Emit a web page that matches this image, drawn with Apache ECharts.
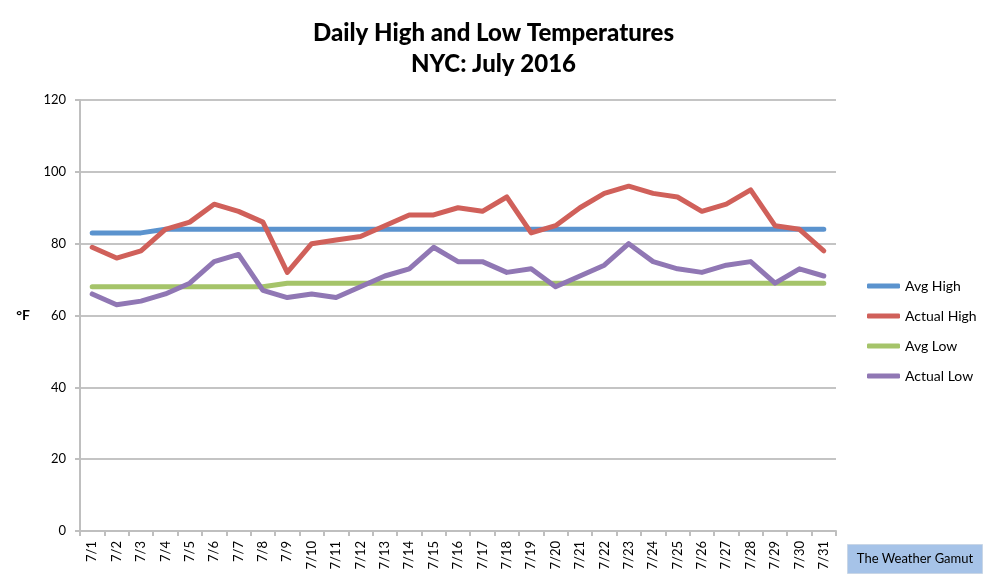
<!DOCTYPE html>
<html>
<head>
<meta charset="utf-8">
<style>
html, body { margin: 0; padding: 0; background: #fff; }
#chart { width: 987px; height: 578px; }
</style>
</head>
<body>
<div id="chart"></div>
<script src="https://cdn.jsdelivr.net/npm/echarts@6/dist/echarts.min.js"></script>
<script>
var days = ['7/1','7/2','7/3','7/4','7/5','7/6','7/7','7/8','7/9','7/10','7/11','7/12','7/13','7/14','7/15','7/16',
	'7/17','7/18','7/19','7/20','7/21','7/22','7/23','7/24','7/25','7/26','7/27','7/28','7/29','7/30','7/31'];
var avgHigh = [83,83,83,84,84,84,84,84,84,84,84,84,84,84,84,84,84,84,84,84,84,84,84,84,84,84,84,84,84,84,84];
var actualHigh = [79,76,78,84,86,91,89,86,72,80,81,82,85,88,88,90,89,93,83,85,90,94,96,94,93,89,91,95,85,84,78];
var avgLow = [68,68,68,68,68,68,68,68,69,69,69,69,69,69,69,69,69,69,69,69,69,69,69,69,69,69,69,69,69,69,69];
var actualLow = [66,63,64,66,69,75,77,67,65,66,65,68,71,73,79,75,75,72,73,68,71,74,80,75,73,72,74,75,69,73,71];

var colors = ['#5b93ce', '#d0605a', '#a5c46a', '#9077b4'];
var font = 'Lato, "Open Sans", sans-serif';

var chart = echarts.init(document.getElementById('chart'));

function line(name, data) {
	return {
		name: name,
		type: 'line',
		data: data,
		symbol: 'none',
		lineStyle: { width: 5, cap: 'round', join: 'round' },
		animation: false
	};
}

var option = {
	color: colors,
	textStyle: { fontFamily: font },
	title: {
		text: 'Daily High and Low Temperatures\nNYC: July 2016',
		left: 'center',
		top: 13,
		textStyle: { fontSize: 24, fontWeight: 900, color: '#000', lineHeight: 31, fontFamily: font }
	},
	legend: {
		orient: 'vertical',
		left: 862,
		top: 274,
		itemGap: 16,
		itemWidth: 33,
		itemHeight: 5,
		icon: 'roundRect',
		textStyle: { fontSize: 14, color: '#000' },
		data: ['Avg High', 'Actual High', 'Avg Low', 'Actual Low']
	},
	grid: { left: 80, right: 151, top: 100, bottom: 47 },
	xAxis: {
		type: 'category',
		data: days,
		axisLine: { lineStyle: { color: '#bfbfbf', width: 2 } },
		axisTick: { show: true, length: 5, lineStyle: { color: '#bfbfbf', width: 2 } },
		axisLabel: { rotate: 90, color: '#000', fontSize: 13, margin: 10, interval: 0 }
	},
	yAxis: {
		type: 'value',
		min: 0,
		max: 120,
		interval: 20,
		name: '°F',
		nameLocation: 'middle',
		nameRotate: 0,
		nameGap: 50,
		nameTextStyle: { fontWeight: 'bold', fontSize: 14, color: '#000' },
		axisLine: { show: true, lineStyle: { color: '#bfbfbf', width: 2 } },
		axisTick: { show: true, length: 5, lineStyle: { color: '#bfbfbf', width: 2 } },
		axisLabel: { color: '#000', fontSize: 13, margin: 14 },
		splitLine: { lineStyle: { color: '#c4c4c4', width: 2 } }
	},
	graphic: [{
		type: 'group',
		left: 847,
		top: 544,
		children: [{
			type: 'rect',
			shape: { x: 0, y: 0, width: 135, height: 29 },
			style: { fill: '#a6c3e8', stroke: '#c9d6e6', lineWidth: 1 }
		}, {
			type: 'text',
			x: 67.5,
			y: 14.5,
			style: { text: 'The Weather Gamut', fill: '#000', font: '13px ' + font, align: 'center', verticalAlign: 'middle' }
		}]
	}],
	series: [
		line('Avg High', avgHigh),
		line('Actual High', actualHigh),
		line('Avg Low', avgLow),
		line('Actual Low', actualLow)
	]
};

chart.setOption(option);
</script>
</body>
</html>
